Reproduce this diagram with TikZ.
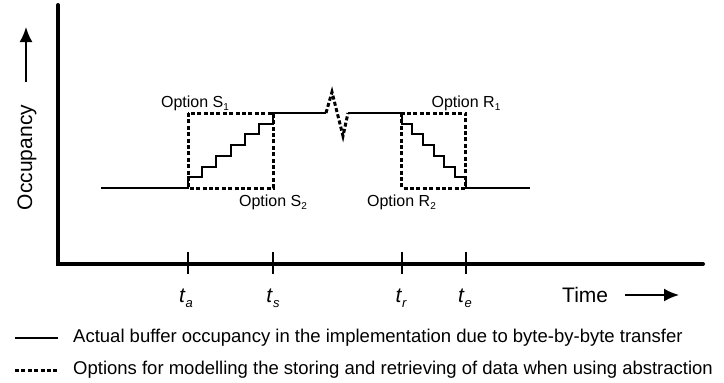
\documentclass[tikz,border=0pt]{standalone}
\usepackage{fontspec}
\setmainfont{Liberation Sans}
\usetikzlibrary{arrows.meta}

\tikzset{
  axisline/.style={line width=4pt, line cap=round},
  curve/.style={line width=2pt},
  optbox/.style={line width=3pt, dash pattern=on 4pt off 2.4pt},
  tickline/.style={line width=2pt},
  arr/.style={line width=2pt, -{Latex[length=15pt,width=13pt]}},
  lbl/.style={inner sep=0pt, anchor=base, font=\fontsize{16}{18}\selectfont},
  big/.style={inner sep=0pt, anchor=base, font=\fontsize{21}{24}\selectfont},
  leg/.style={inner sep=0pt, anchor=west, font=\fontsize{18.5}{21}\selectfont}
}
\newcommand{\optsub}[2]{Option #1\raisebox{-0.45ex}{\fontsize{10}{11}\selectfont #2}}
\newcommand{\tsub}[1]{\textit{t}\raisebox{-0.5ex}{\fontsize{13}{14}\selectfont\itshape #1}}

\begin{document}
\begin{tikzpicture}[x=1pt,y=-1pt]
  \useasboundingbox (0,0) rectangle (724,383);

  \draw[axisline] (58,5) -- (58,264) -- (703,264);

  \draw[curve] (101,188) -- (188,188) -- (188,177.3) -- (202.2,177.3) -- (202.2,166.6) -- (216.4,166.6)
               -- (216.4,155.9) -- (230.6,155.9) -- (230.6,145.1) -- (244.8,145.1) -- (244.8,134.4)
               -- (259,134.4) -- (259,123.7) -- (273.2,123.7) -- (273.2,113) -- (326,113);
  \draw[optbox, miter limit=20] (326,113) -- (332,92) -- (343,136) -- (348,113);
  \draw[curve] (348,113) -- (401.7,113) -- (401.7,123.7) -- (412.4,123.7) -- (412.4,134.4) -- (423,134.4)
               -- (423,145.1) -- (433.7,145.1) -- (433.7,155.9) -- (444.4,155.9) -- (444.4,166.6)
               -- (455,166.6) -- (455,177.3) -- (465.7,177.3) -- (465.7,188) -- (530,188);

  \draw[optbox] (188,113) rectangle (273.2,188)
                (401.7,113) rectangle (465.7,188);

  \draw[tickline] (188,252) -- (188,274) (273.2,252) -- (273.2,274)
                  (401.7,252) -- (401.7,274) (465.7,252) -- (465.7,274);

  \node[lbl] (s1) at (195,107) {\optsub{S}{1}};
  \node[lbl] (s2) at (273,206) {\optsub{S}{2}};
  \node[lbl] (r1) at (466,107) {\optsub{R}{1}};
  \node[lbl] (r2) at (401.5,206) {\optsub{R}{2}};

  \node[big] (ta) at (186,302) {\tsub{a}};
  \node[big] (ts) at (273,302) {\tsub{s}};
  \node[big] (tr) at (401,302) {\tsub{r}};
  \node[big] (te) at (465,302) {\tsub{e}};

  \node[big, anchor=base west] (time) at (562,302) {Time};
  \coordinate (t0) at (625,295);
  \coordinate (t1) at (679,295);
  \draw[arr] (t0) -- (t1);

  \node[big, rotate=90] (occ) at (32,157.5) {Occupancy};
  \coordinate (o0) at (26,82);
  \coordinate (o1) at (26,27);
  \draw[arr] (o0) -- (o1);

  \coordinate (lg) at (15,338);
  \coordinate (lg0) at (58,338);
  \coordinate (lg1) at (15,370);
  \coordinate (lg2) at (58,370);
  \draw[curve] (lg) -- (lg0);
  \draw[optbox] (lg1) -- (lg2);
  \node[leg] (leg) at (73,338) {Actual buffer occupancy in the implementation due to byte-by-byte transfer};
  \node[leg] (leg0) at (73,370) {Options for modelling the storing and retrieving of data when using abstraction};

\end{tikzpicture}
\end{document}
